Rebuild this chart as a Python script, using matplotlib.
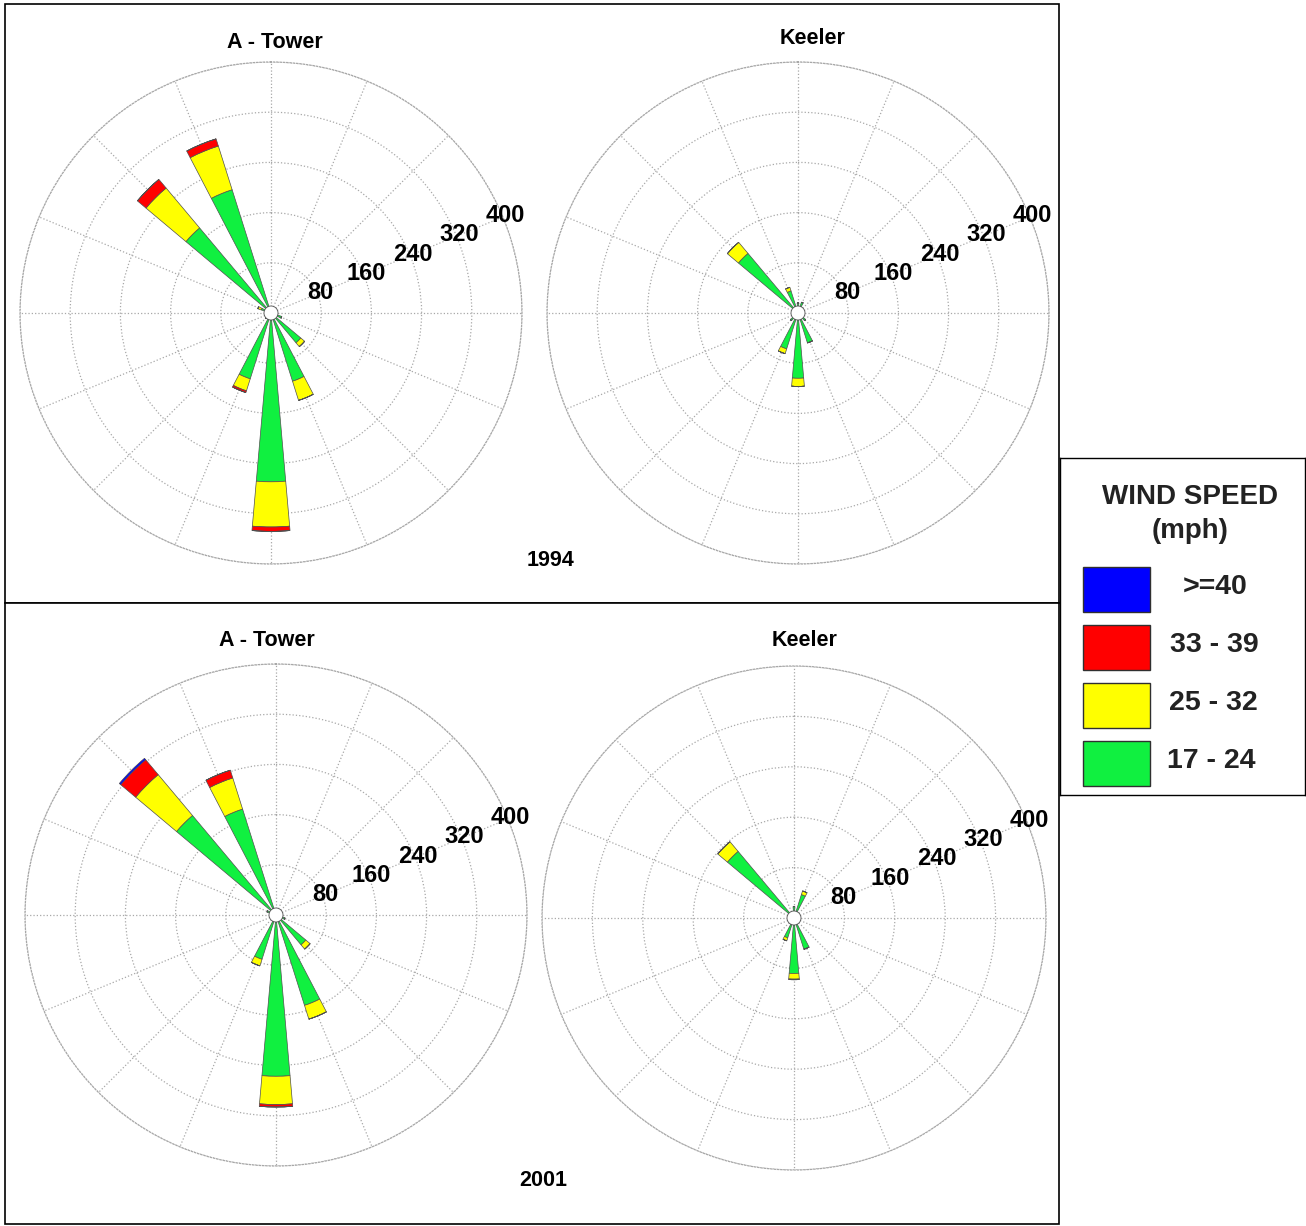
import numpy as np
import matplotlib
matplotlib.use("Agg")
import matplotlib.pyplot as plt
from matplotlib.patches import Rectangle, Circle

plt.rcParams['font.family'] = ['Liberation Sans', 'DejaVu Sans']

# 16 compass directions, clockwise from north
directions = ['N', 'NNE', 'NE', 'ENE', 'E', 'ESE', 'SE', 'SSE',
              'S', 'SSW', 'SW', 'WSW', 'W', 'WNW', 'NW', 'NNW']

speed_classes = ['17 - 24', '25 - 32', '33 - 39', '>=40']
class_colors = ['#10f040', '#ffff00', '#ff0000', '#0000ff']

# 1994 A - Tower (counts per direction, per speed class)
tower94_g = [8, 6, 0, 0, 8, 18, 62, 114, 269, 110, 12, 0, 0, 16, 177, 206]
tower94_y = [0, 0, 0, 0, 0, 0, 8, 32, 72, 20, 0, 0, 0, 6, 83, 73]
tower94_r = [0, 0, 0, 0, 0, 0, 0, 0, 7, 3, 0, 0, 0, 0, 18, 12]
tower94_b = [0] * 16

# 1994 Keeler
keeler94_g = [16, 18, 0, 0, 0, 0, 16, 50, 104, 60, 16, 0, 0, 0, 124, 37]
keeler94_y = [0, 0, 0, 0, 0, 0, 0, 0, 13, 8, 0, 0, 0, 0, 23, 6]
keeler94_r = [0] * 16
keeler94_b = [0] * 16

# 2001 A - Tower
tower01_g = [0, 0, 0, 0, 0, 15, 62, 151, 257, 74, 0, 0, 0, 15, 207, 177]
tower01_y = [0, 0, 0, 0, 0, 0, 9, 23, 45, 11, 0, 0, 0, 0, 85, 52]
tower01_r = [0, 0, 0, 0, 0, 0, 0, 0, 4, 0, 0, 0, 0, 0, 31, 13]
tower01_b = [0, 0, 0, 0, 0, 0, 0, 0, 0, 0, 0, 0, 0, 0, 3, 0]

# 2001 Keeler
keeler01_g = [18, 39, 0, 0, 0, 0, 0, 52, 88, 33, 0, 0, 0, 0, 138, 0]
keeler01_y = [0, 6, 0, 0, 0, 0, 0, 0, 9, 5, 0, 0, 0, 0, 20, 0]
keeler01_r = [0, 0, 0, 0, 0, 0, 0, 0, 1, 0, 0, 0, 0, 0, 0, 0]
keeler01_b = [0] * 16

ring_ticks = [80, 160, 240, 320, 400]

W, H = 1306, 1226
fig = plt.figure(figsize=(W / 100, H / 100), dpi=100)

# background layer in pixel coordinates for frames and text
bg = fig.add_axes([0, 0, 1, 1], zorder=0)
bg.set_xlim(0, W)
bg.set_ylim(H, 0)
bg.axis('off')
bg.add_patch(Rectangle((5, 4), 1054, 599, fc='white', ec='black', lw=1.2))
bg.add_patch(Rectangle((5, 603), 1054, 621, fc='white', ec='black', lw=1.2))

txt = dict(fontsize=15.5, fontweight='bold', ha='center', va='center')
bg.text(275, 42, 'A - Tower', **txt)
bg.text(813, 38, 'Keeler', **txt)
bg.text(267, 640, 'A - Tower', **txt)
bg.text(805, 640, 'Keeler', **txt)
bg.text(551, 561, '1994', **txt)
bg.text(543, 1180, '2001', **txt)


def rose(cx, cy, rad, g, y, r, b):
    ax = fig.add_axes([(cx - rad) / W, 1 - (cy + rad) / H, 2 * rad / W, 2 * rad / H],
                      projection='polar', zorder=2)
    ax.set_theta_zero_location('N')
    ax.set_theta_direction(-1)
    theta = np.deg2rad(np.arange(16) * 22.5)
    width = np.deg2rad(10)
    bottom = np.zeros(16)
    for vals, col in zip([g, y, r, b], class_colors):
        vals = np.array(vals, dtype=float)
        ax.bar(theta, vals, width=width, bottom=bottom, color=col,
               edgecolor='#505050', linewidth=0.5, zorder=3)
        bottom += vals
    ax.set_ylim(0, 400)
    ax.set_yticks(ring_ticks)
    ax.set_yticklabels([])
    ax.set_xticks(theta)
    ax.set_xticklabels([])
    ax.grid(True, color='#a8a8a8', linestyle=':', linewidth=0.9)
    ax.spines['polar'].set_color('#a8a8a8')
    ax.spines['polar'].set_linestyle(':')
    ax.spines['polar'].set_linewidth(0.9)
    for v in ring_ticks:
        ax.text(np.deg2rad(67.5), v + 5, str(v), fontsize=17, fontweight='bold',
                ha='center', va='center', zorder=6)
    ax.add_patch(Circle((0.5, 0.5), 7 / (2 * rad), transform=ax.transAxes,
                        fc='white', ec='#505050', lw=0.6, zorder=5))
    return ax


rose(271, 313, 251, tower94_g, tower94_y, tower94_r, tower94_b)
rose(798, 313, 251, keeler94_g, keeler94_y, keeler94_r, keeler94_b)
rose(276, 915, 251, tower01_g, tower01_y, tower01_r, tower01_b)
rose(794, 918, 252, keeler01_g, keeler01_y, keeler01_r, keeler01_b)

# legend box
lg = fig.add_axes([1060 / W, 1 - 795 / H, 245 / W, 337 / H], zorder=3)
lg.set_xlim(1060, 1305)
lg.set_ylim(795, 458)
lg.set_xticks([])
lg.set_yticks([])
for s in lg.spines.values():
    s.set_linewidth(1.0)
lg.text(1190, 497, 'WIND SPEED', fontsize=20, fontweight='bold', ha='center', va='center',
        color='#222222')
lg.text(1190, 531, '(mph)', fontsize=20, fontweight='bold', ha='center', va='center',
        color='#222222')
box_tops = [567, 625, 683, 741]
label_x = [1215, 1214, 1213, 1211]
for i, cls in enumerate(reversed(speed_classes)):
    col = class_colors[::-1][i]
    lg.add_patch(Rectangle((1083, box_tops[i]), 67, 45, fc=col, ec='#303030', lw=1.0))
    lg.text(label_x[i], box_tops[i] + 20, cls, fontsize=20.5, fontweight='bold',
            ha='center', va='center', color='#222222')

fig.savefig('out.png', dpi=100, facecolor='white')
